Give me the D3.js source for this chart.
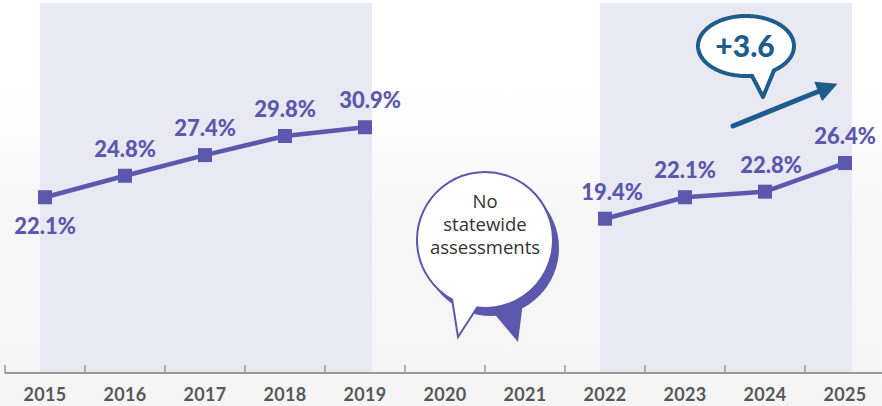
<!DOCTYPE html>
<html>
<head>
<meta charset="utf-8">
<script src="https://cdn.jsdelivr.net/npm/d3@7"></script>
<style>
  html, body { margin: 0; padding: 0; background: #ffffff; }
  svg { display: block; }
</style>
</head>
<body>
<div id="chart"></div>
<script>
// School years shown on the axis
const years = ["2015", "2016", "2017", "2018", "2019", "2020", "2021", "2022", "2023", "2024", "2025"];
// Percent proficient; no statewide assessments in 2020 and 2021
const values = [22.1, 24.8, 27.4, 29.8, 30.9, null, null, 19.4, 22.1, 22.8, 26.4];
// Tested periods, shaded behind the line
const periods = [["2015", "2019"], ["2022", "2025"]];
// Callouts
const gapNote = ["No", "statewide", "assessments"];
const changeFrom = "2024";
const changeTo = "2025";

const W = 882, H = 406;
const purple = "#5b58ad";
const blue = "#1d5c8b";

const svg = d3.select("#chart").append("svg")
  .attr("width", W).attr("height", H);

// background wash: white at the top fading to a light grey
const defs = svg.append("defs");
const bg = defs.append("linearGradient").attr("id", "bg")
  .attr("x1", 0).attr("y1", 0).attr("x2", 0).attr("y2", 1);
bg.append("stop").attr("offset", "0%").attr("stop-color", "#ffffff");
bg.append("stop").attr("offset", "20%").attr("stop-color", "#ffffff");
bg.append("stop").attr("offset", "55%").attr("stop-color", "#f6f6f6");
bg.append("stop").attr("offset", "100%").attr("stop-color", "#f5f5f5");
svg.append("rect").attr("width", W).attr("height", H).attr("fill", "url(#bg)");

const x = d3.scaleBand().domain(years).range([5, 885]).padding(0);
const y = d3.scaleLinear().domain([0, 46.9]).range([373, 0]);
const cx = d => x(d) + x.bandwidth() / 2;

// shaded tested periods
svg.append("g").selectAll("rect").data(periods).join("rect")
  .attr("x", d => cx(d[0]) - 5)
  .attr("y", 3)
  .attr("width", d => cx(d[1]) - cx(d[0]) + 12)
  .attr("height", y(0) - 3)
  .attr("fill", "#e9e9f3");

// axis baseline and boundary ticks
const axisG = svg.append("g");
axisG.append("line")
  .attr("x1", 5).attr("x2", W).attr("y1", y(0)).attr("y2", y(0))
  .attr("stroke", "#9a9a9a").attr("stroke-width", 2);
axisG.selectAll("line.tick").data(years).join("line")
  .attr("class", "tick")
  .attr("x1", d => x(d)).attr("x2", d => x(d))
  .attr("y1", y(0)).attr("y2", y(0) - 8)
  .attr("stroke", "#9a9a9a").attr("stroke-width", 1.5);

const xAxis = d3.axisBottom(x).tickSizeInner(0).tickSizeOuter(0).tickPadding(15);
const gx = svg.append("g").attr("transform", `translate(0,${y(0)})`).call(xAxis);
gx.select(".domain").remove();
gx.selectAll("text")
  .attr("fill", "#575757")
  .style("font-family", "Lato, 'Open Sans', sans-serif")
  .style("font-weight", 700)
  .style("font-size", "18px")
  .style("letter-spacing", "0.3px");

// line and markers
const pts = years.map((yr, i) => ({ year: yr, value: values[i] }));
const line = d3.line()
  .defined(d => d.value != null)
  .x(d => cx(d.year))
  .y(d => y(d.value));
svg.append("path").datum(pts)
  .attr("d", line)
  .attr("fill", "none")
  .attr("stroke", purple)
  .attr("stroke-width", 4.5)
  .attr("stroke-linejoin", "round");

const valid = pts.filter(d => d.value != null);
const ms = 14;
svg.append("g").selectAll("rect").data(valid).join("rect")
  .attr("x", d => cx(d.year) - ms / 2)
  .attr("y", d => y(d.value) - ms / 2)
  .attr("width", ms).attr("height", ms)
  .attr("fill", purple);

// value labels: first point labelled below, the rest above
const nudge = { "2019": 5, "2022": 7, "2024": 6 };
svg.append("g").selectAll("text").data(valid).join("text")
  .attr("x", d => cx(d.year) + (nudge[d.year] || 0))
  .attr("y", (d, i) => i === 0 ? y(d.value) + 37 : y(d.value) - 19)
  .attr("text-anchor", "middle")
  .attr("fill", purple)
  .style("font-family", "Lato, 'Open Sans', sans-serif")
  .style("font-weight", 900)
  .style("font-size", "22px")
  .text(d => d.value.toFixed(1) + "%");

// "No statewide assessments" speech bubble over the gap years
const gapX = (cx("2020") + cx("2021")) / 2;
const bx = gapX, by = 240, br = 68;
const note = svg.append("g");
// offset purple shadow with its tail
note.append("circle").attr("cx", bx + 6).attr("cy", by + 8).attr("r", br).attr("fill", purple);
note.append("path")
  .attr("d", `M${bx + 6},${by + 70} L${bx + 38},${by + 62} L${bx + 33},${by + 102} Z`)
  .attr("fill", purple);
// white bubble with its own tail
const a0 = Math.atan2(68, -8), a1 = Math.atan2(58, -32);
const bp = d3.path();
bp.moveTo(bx + br * Math.cos(a1), by + br * Math.sin(a1));
bp.lineTo(bx - 27, by + 97);
bp.lineTo(bx + br * Math.cos(a0), by + br * Math.sin(a0));
bp.arc(bx, by, br, a0, a1 - 2 * Math.PI, true);
bp.closePath();
note.append("path").attr("d", bp.toString())
  .attr("fill", "#ffffff").attr("stroke", purple).attr("stroke-width", 2);
note.append("text")
  .attr("x", bx).attr("y", by - 32)
  .attr("text-anchor", "middle")
  .attr("fill", "#333333")
  .style("font-family", "'Open Sans', 'Noto Sans', sans-serif")
  .style("font-size", "18.5px")
  .selectAll("tspan").data(gapNote).join("tspan")
  .attr("x", bx)
  .attr("dy", (d, i) => i === 0 ? 0 : 23)
  .text(d => d);

// "+3.6" change callout with rising arrow
const delta = values[years.indexOf(changeTo)] - values[years.indexOf(changeFrom)];
const ex = 746, ey = 46, erx = 48, ery = 30;
const callout = svg.append("g");
const t0 = Math.acos(6 / erx), t1 = Math.acos(28 / erx);
const cp = d3.path();
cp.moveTo(ex + erx * Math.cos(t1), ey + ery * Math.sin(t1));
for (let k = 1; k <= 120; k++) {
  const t = t1 - (k / 120) * (2 * Math.PI - (t0 - t1));
  cp.lineTo(ex + erx * Math.cos(t), ey + ery * Math.sin(t));
}
cp.lineTo(ex + 17, ey + 51);
cp.closePath();
callout.append("path").attr("d", cp.toString())
  .attr("fill", "#ffffff").attr("stroke", blue)
  .attr("stroke-width", 4).attr("stroke-linejoin", "round");
callout.append("text")
  .attr("x", ex - 1).attr("y", ey + 11)
  .attr("text-anchor", "middle")
  .attr("fill", blue)
  .style("font-family", "Lato, 'Open Sans', sans-serif")
  .style("font-weight", 900)
  .style("font-size", "30px")
  .text("+" + delta.toFixed(1));

defs.append("marker").attr("id", "head")
  .attr("viewBox", "0 0 10 10").attr("refX", 2).attr("refY", 5)
  .attr("markerWidth", 4.2).attr("markerHeight", 4.2)
  .attr("orient", "auto")
  .append("path").attr("d", "M0,0 L10,5 L0,10 Z").attr("fill", blue);
callout.append("line")
  .attr("x1", 733).attr("y1", 126).attr("x2", 822).attr("y2", 90)
  .attr("stroke", blue).attr("stroke-width", 5).attr("stroke-linecap", "round")
  .attr("marker-end", "url(#head)");
</script>
</body>
</html>
